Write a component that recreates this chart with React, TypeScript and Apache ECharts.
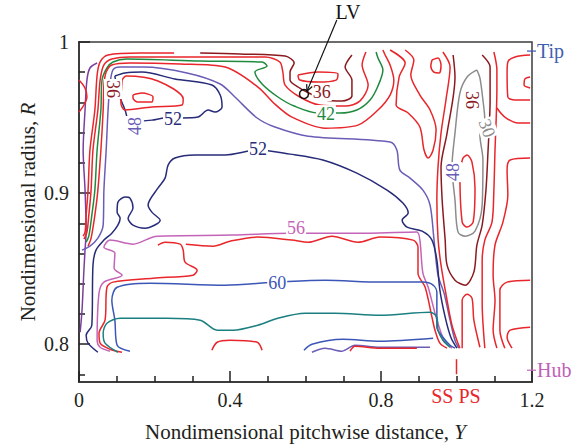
import React, { useEffect, useRef } from "react";
import * as echarts from "echarts";

const FONT = "'Liberation Serif', 'Times New Roman', serif";
const INK = "#231f20";

const C: Record<string, string> = {
  red: "#e8262b",
  maroon: "#8a1a1f",
  green: "#1f8a3e",
  lavender: "#6b5db6",
  navy: "#272b78",
  pink: "#c464b8",
  blue: "#3b56b6",
  teal: "#1b7f80",
  gray: "#8c8c8c",
  violet: "#7a3f9e",
};

// ---- axis ticks ----
const xMajorTicks = [0, 0.4, 0.8, 1.2];
const xMinorTicks = [0.1, 0.2, 0.3, 0.5, 0.6, 0.7, 0.9, 1.0, 1.1];
const yMajorTicks = [0.8, 0.9, 1.0];
const yMinorTicks = [0.78, 0.82, 0.84, 0.86, 0.88, 0.92, 0.94, 0.96, 0.98];

// ---- contour lines: [Y (pitchwise), R (radius)] ----
const violetLine = [[0.048,0.9861],[0.029,0.9828],[0.021,0.9748],[0.016,0.9550],[0.011,0.9285],[0.016,0.9020],[0.019,0.8755],[0.016,0.8623],[0.013,0.8490],[0.008,0.8225],[0.003,0.8079]];
const redArc = [[0,0.9748],[0.016,0.9695],[0.021,0.9636],[0.013,0.9583],[0,0.9536]];
const redA = [[0.252,0.9927],[0.162,0.9927],[0.077,0.9914],[0.056,0.9868],[0.048,0.9781],[0.042,0.9550],[0.029,0.9285],[0.024,0.9020],[0.019,0.8854],[0.016,0.8742],[0.011,0.8715]];
const redA2 = [[0.013,0.8695],[0.021,0.8742],[0.026,0.8854],[0.032,0.9020],[0.037,0.9285],[0.050,0.9550],[0.056,0.9748],[0.066,0.9848],[0.087,0.9887],[0.135,0.9901],[0.321,0.9901],[0.493,0.9901],[0.532,0.9868],[0.540,0.9801],[0.546,0.9715],[0.585,0.9636],[0.638,0.9583],[0.705,0.9576],[0.744,0.9609],[0.766,0.9715],[0.750,0.9848],[0.760,0.9934]];
const green42 = [[0.019,0.8675],[0.026,0.8715],[0.034,0.8854],[0.042,0.9020],[0.048,0.9285],[0.058,0.9550],[0.061,0.9748],[0.074,0.9828],[0.090,0.9868],[0.127,0.9887],[0.321,0.9874],[0.485,0.9868],[0.498,0.9841],[0.466,0.9801],[0.485,0.9722],[0.527,0.9636],[0.570,0.9576],[0.633,0.9530],[0.691,0.9530],[0.736,0.9550],[0.771,0.9616],[0.792,0.9709],[0.805,0.9815],[0.792,0.9894],[0.787,0.9934]];
const redB = [[0.024,0.8649],[0.032,0.8702],[0.042,0.8854],[0.050,0.9020],[0.058,0.9285],[0.064,0.9550],[0.066,0.9715],[0.072,0.9801],[0.087,0.9848],[0.135,0.9861],[0.268,0.9854],[0.387,0.9834],[0.474,0.9702],[0.519,0.9589],[0.564,0.9503],[0.652,0.9430],[0.739,0.9450],[0.792,0.9550],[0.824,0.9649],[0.834,0.9748],[0.824,0.9848],[0.811,0.9914],[0.805,0.9947]];
const lavender48 = [[0.008,0.8623],[0.029,0.8649],[0.050,0.8702],[0.064,0.8788],[0.066,0.9020],[0.072,0.9285],[0.077,0.9550],[0.082,0.9715],[0.090,0.9815],[0.109,0.9834],[0.170,0.9834],[0.286,0.9795],[0.374,0.9722],[0.413,0.9636],[0.472,0.9497],[0.519,0.9437],[0.607,0.9377],[0.824,0.9338],[0.842,0.9285],[0.850,0.9152],[0.877,0.9099],[0.911,0.9020],[0.930,0.8921],[0.940,0.8702],[0.951,0.8457],[0.967,0.8338],[0.983,0.8159],[0.996,0.8026],[1.006,0.7974]];
const navyLoop = [[0.095,0.9775],[0.122,0.9795],[0.167,0.9801],[0.254,0.9755],[0.352,0.9715],[0.374,0.9649],[0.379,0.9570],[0.360,0.9536],[0.342,0.9550],[0.315,0.9503],[0.273,0.9497],[0.228,0.9497],[0.193,0.9483],[0.130,0.9470],[0.127,0.9503],[0.122,0.9550],[0.103,0.9669],[0.095,0.9775]];
const redLoopOuter = [[0.114,0.9748],[0.125,0.9775],[0.209,0.9742],[0.276,0.9623],[0.273,0.9583],[0.193,0.9570],[0.122,0.9550],[0.111,0.9596],[0.114,0.9748]];
const redLoopInner = [[0.143,0.9649],[0.167,0.9662],[0.196,0.9636],[0.193,0.9603],[0.156,0.9603],[0.143,0.9629],[0.143,0.9649]];
const maroonTop = [[0.321,0.9927],[0.426,0.9921],[0.546,0.9907],[0.570,0.9861],[0.559,0.9801],[0.559,0.9748],[0.585,0.9695],[0.620,0.9649],[0.652,0.9616],[0.697,0.9609],[0.723,0.9642],[0.723,0.9748],[0.705,0.9834],[0.723,0.9914]];
const redLV = [[0.580,0.9781],[0.633,0.9801],[0.686,0.9788],[0.681,0.9748],[0.633,0.9735],[0.585,0.9748],[0.580,0.9781]];
const navyMain = [[0.050,0.7947],[0.024,0.8007],[0.019,0.8060],[0.034,0.8126],[0.037,0.8523],[0.045,0.8623],[0.066,0.8689],[0.087,0.8735],[0.103,0.8788],[0.109,0.8834],[0.101,0.8874],[0.103,0.8940],[0.122,0.8974],[0.135,0.8967],[0.143,0.8901],[0.130,0.8834],[0.143,0.8788],[0.175,0.8768],[0.215,0.8821],[0.193,0.8874],[0.183,0.8921],[0.209,0.9033],[0.228,0.9099],[0.236,0.9185],[0.254,0.9232],[0.307,0.9252],[0.387,0.9252],[0.474,0.9285],[0.559,0.9258],[0.646,0.9219],[0.736,0.9132],[0.816,0.9020],[0.858,0.8934],[0.872,0.8868],[0.856,0.8821],[0.869,0.8775],[0.909,0.8748],[0.935,0.8689],[0.948,0.8556],[0.956,0.8358],[0.970,0.8179],[0.985,0.8046],[1.001,0.7974]];
const pink56 = [[0.082,0.7954],[0.056,0.7980],[0.048,0.8026],[0.053,0.8338],[0.066,0.8411],[0.114,0.8457],[0.093,0.8503],[0.095,0.8603],[0.066,0.8642],[0.082,0.8689],[0.143,0.8662],[0.207,0.8715],[0.408,0.8722],[0.559,0.8735],[0.771,0.8735],[0.895,0.8742],[0.903,0.8689],[0.911,0.8470],[0.925,0.8377],[0.946,0.8179],[0.967,0.8026],[0.988,0.7974]];
const redMidA = [[0.114,0.7947],[0.082,0.7967],[0.056,0.8007],[0.053,0.8073],[0.069,0.8159],[0.074,0.8377],[0.090,0.8411],[0.196,0.8437],[0.302,0.8457],[0.313,0.8490],[0.281,0.8543],[0.276,0.8623],[0.268,0.8662],[0.228,0.8675],[0.209,0.8656]];
const redMidB = [[0.283,0.8662],[0.355,0.8649],[0.400,0.8682],[0.474,0.8709],[0.564,0.8689],[0.607,0.8675],[0.670,0.8715],[0.739,0.8675],[0.797,0.8709],[0.885,0.8689],[0.898,0.8642],[0.898,0.8470],[0.917,0.8377],[0.935,0.8179],[0.943,0.8093],[0.956,0.8007],[0.975,0.7974]];
const blue60 = [[0.135,0.7954],[0.101,0.7993],[0.095,0.8159],[0.087,0.8291],[0.101,0.8377],[0.188,0.8404],[0.387,0.8391],[0.527,0.8411],[0.652,0.8424],[0.797,0.8411],[0.911,0.8411],[0.938,0.8391],[0.948,0.8344],[0.948,0.8113],[0.964,0.8046],[0.983,0.7993],[0.996,0.7974]];
const teal64 = [[0.103,0.7947],[0.069,0.8007],[0.064,0.8073],[0.074,0.8139],[0.109,0.8172],[0.233,0.8172],[0.321,0.8159],[0.366,0.8093],[0.408,0.8093],[0.474,0.8126],[0.527,0.8172],[0.599,0.8205],[0.678,0.8205],[0.797,0.8192],[0.930,0.8212],[0.948,0.8179],[0.951,0.8093],[0.964,0.8026],[0.983,0.7980]];
const redBotArc = [[0.352,0.7960],[0.366,0.8013],[0.400,0.8026],[0.472,0.8013],[0.485,0.7960]];
const blueBot = [[0.596,0.7960],[0.617,0.8000],[0.699,0.8033],[0.797,0.8020],[0.938,0.8040]];
const purpleBot = [[0.617,0.7947],[0.652,0.7974],[0.697,0.7954],[0.731,0.7993],[0.797,0.7980],[0.930,0.7980]];
const redBot = [[0.718,0.7954],[0.731,0.7987],[0.797,0.7974],[0.895,0.7974]];
const gray30 = [[1.054,0.9815],[1.028,0.9768],[1.009,0.9662],[0.996,0.9397],[0.988,0.9172],[0.996,0.8954],[1.004,0.8742],[1.023,0.8715],[1.049,0.8748],[1.068,0.8921],[1.070,0.9219],[1.062,0.9384],[1.075,0.9483],[1.070,0.9616],[1.062,0.9762],[1.054,0.9815]];
const redInner = [[1.017,0.9232],[1.009,0.9139],[1.015,0.8808],[1.028,0.8775],[1.044,0.8808],[1.049,0.9033],[1.041,0.9205],[1.028,0.9252],[1.017,0.9232]];
const maroonRight = [[0.991,0.9914],[0.996,0.9768],[0.975,0.9397],[0.959,0.9172],[0.962,0.8954],[0.970,0.8689],[0.975,0.8523],[0.996,0.8424],[1.023,0.8391],[1.046,0.8477],[1.054,0.8656],[1.068,0.8788],[1.078,0.9020],[1.083,0.9252],[1.089,0.9616],[1.089,0.9834],[1.068,0.9914]];
const redML = [[0.964,0.9934],[0.983,0.9834],[0.972,0.9616],[0.959,0.9397],[0.951,0.9172],[0.948,0.8954],[0.951,0.8702],[0.959,0.8523],[0.975,0.8291],[0.988,0.8126],[1.001,0.8026],[1.009,0.7974]];
const redNarrowU = [[1.015,0.7974],[1.015,0.8291],[1.028,0.8331],[1.041,0.8305],[1.046,0.8159],[1.062,0.7980]];
const redR2 = [[1.075,0.7974],[1.068,0.8272],[1.068,0.8556],[1.075,0.8689],[1.094,0.8808],[1.099,0.9020],[1.102,0.9285],[1.105,0.9483],[1.107,0.9682],[1.107,0.9815],[1.099,0.9934]];
const redR7 = [[1.107,0.9563],[1.128,0.9503],[1.163,0.9464],[1.195,0.9464]];
const redR3 = [[1.195,0.9232],[1.142,0.9219],[1.134,0.9152],[1.136,0.8987],[1.123,0.8808],[1.102,0.8656],[1.097,0.8457],[1.102,0.8291],[1.097,0.8093],[1.107,0.7974]];
const redR3b = [[1.195,0.8424],[1.134,0.8411],[1.115,0.8358],[1.115,0.8093],[1.128,0.7974]];
const redR4 = [[1.195,0.8113],[1.142,0.8093],[1.134,0.8046],[1.147,0.7974]];
const redR5 = [[1.195,0.9616],[1.155,0.9616],[1.136,0.9636],[1.134,0.9795],[1.136,0.9868],[1.155,0.9901],[1.195,0.9914]];
const redR6 = [[1.195,0.9768],[1.181,0.9755],[1.179,0.9715],[1.195,0.9695]];
const redMV = [[0.824,0.9947],[0.864,0.9861],[0.848,0.9768],[0.840,0.9583],[0.872,0.9530],[0.903,0.9437],[0.914,0.9285],[0.925,0.9232],[0.938,0.9285],[0.946,0.9417],[0.930,0.9550],[0.903,0.9649],[0.879,0.9781],[0.887,0.9881],[0.864,0.9947]];
const redSmallLoop = [[0.935,0.9881],[0.951,0.9894],[0.959,0.9848],[0.954,0.9795],[0.940,0.9801],[0.932,0.9841],[0.935,0.9881]];

const contours: [number[][], string][] = [
  [violetLine, "violet"], [redArc, "red"], [redA, "red"], [redA2, "red"], [green42, "green"],
  [redB, "red"], [lavender48, "lavender"], [navyLoop, "navy"], [redLoopOuter, "red"], [redLoopInner, "red"],
  [maroonTop, "maroon"], [redLV, "red"], [navyMain, "navy"], [pink56, "pink"], [redMidA, "red"],
  [redMidB, "red"], [blue60, "blue"], [teal64, "teal"], [redBotArc, "red"], [blueBot, "blue"],
  [purpleBot, "lavender"], [redBot, "red"], [gray30, "gray"], [redInner, "red"], [maroonRight, "maroon"],
  [redML, "red"], [redNarrowU, "red"], [redR2, "red"], [redR7, "red"], [redR3, "red"],
  [redR3b, "red"], [redR4, "red"], [redR5, "red"], [redR6, "red"], [redMV, "red"], [redSmallLoop, "red"],
];

// ---- contour level labels ----
const contourLabels = [
  { at: [0.643, 0.9669], text: "36", color: "maroon", rotate: 0 },
  { at: [0.654, 0.9523], text: "42", color: "green", rotate: 0 },
  { at: [0.249, 0.9490], text: "52", color: "navy", rotate: 0 },
  { at: [0.474, 0.9291], text: "52", color: "navy", rotate: 0 },
  { at: [0.148, 0.9444], text: "48", color: "lavender", rotate: 90 },
  { at: [0.090, 0.9689], text: "36", color: "maroon", rotate: -90 },
  { at: [0.575, 0.8768], text: "56", color: "pink", rotate: 0 },
  { at: [0.525, 0.8404], text: "60", color: "blue", rotate: 0 },
  { at: [1.041, 0.9616], text: "36", color: "maroon", rotate: -90 },
  { at: [1.081, 0.9430], text: "30", color: "gray", rotate: -70 },
  { at: [0.991, 0.9139], text: "48", color: "lavender", rotate: 90 },
];

// ---- annotations (data coordinates) ----
const lvCircle = [0.596, 0.9656];
const lvLeader = [[0.683, 1.0146], [0.604, 0.9675]];
const lvText = [0.7126, 1.0199];
const tipR = 0.994;
const hubR = 0.7828;
const bladeY = 1.0;
const bladeMark = [0.7901, 0.7801];
const ssTextR = 0.7656;

const axisText = { fontFamily: FONT, fontSize: 20, color: INK };
const nameRich = { i: { fontFamily: FONT, fontSize: 21, fontStyle: "italic", fill: INK } };

export default function App() {
  const ref = useRef<HTMLDivElement>(null);
  useEffect(() => {
    const chart = echarts.init(ref.current!, undefined, { renderer: "svg" });
    const tickStyle = { color: INK, width: 1.5 };
    const option: any = {
      animation: false,
      backgroundColor: "#fff",
      grid: { left: 79, top: 42, width: 453, height: 340, show: true, borderColor: "#3c3c3c", borderWidth: 1.5, backgroundColor: "transparent" },
      xAxis: [
        {
          type: "value", min: 0, max: 1.2, position: "bottom",
          axisLine: { show: true, onZero: false, lineStyle: { color: "#3c3c3c", width: 2 } },
          axisTick: { show: true, inside: true, length: 11, customValues: xMajorTicks, lineStyle: tickStyle },
          axisLabel: { show: true, customValues: xMajorTicks, margin: 8, ...axisText, formatter: (v: number) => String(v) },
          splitLine: { show: false },
        },
        {
          type: "value", min: 0, max: 1.2, position: "bottom",
          axisLine: { show: false },
          axisTick: { show: true, inside: true, length: 6, customValues: xMinorTicks, lineStyle: tickStyle },
          axisLabel: { show: false }, splitLine: { show: false },
        },
      ],
      yAxis: [
        {
          type: "value", min: 0.775, max: 1.0, position: "left",
          axisLine: { show: true, onZero: false, lineStyle: { color: "#3c3c3c", width: 2 } },
          axisTick: { show: true, inside: true, length: 11, customValues: yMajorTicks, lineStyle: tickStyle },
          axisLabel: { show: true, customValues: yMajorTicks, margin: 10, ...axisText, formatter: (v: number) => String(Math.round(v * 10) / 10) },
          splitLine: { show: false },
        },
        {
          type: "value", min: 0.775, max: 1.0, position: "left",
          axisLine: { show: false },
          axisTick: { show: true, inside: true, length: 6, customValues: yMinorTicks, lineStyle: tickStyle },
          axisLabel: { show: false }, splitLine: { show: false },
        },
      ],
      series: [
        ...contours.map(([data, col], i) => ({
          type: "line", name: "c" + i, data, xAxisIndex: 0, yAxisIndex: 0,
          symbol: "none", smooth: 0.3, silent: true,
          lineStyle: { color: C[col], width: 1.5 }, z: 2,
        })),
        {
          type: "scatter", xAxisIndex: 0, yAxisIndex: 0, symbolSize: 1, silent: true, z: 5,
          itemStyle: { color: "rgba(0,0,0,0)" },
          data: contourLabels.map((l) => ({
            value: l.at,
            label: { show: true, formatter: l.text, color: C[l.color], rotate: l.rotate },
          })),
          label: { show: true, position: "inside", fontFamily: FONT, fontSize: 18, backgroundColor: "#fff", padding: [0, 1], opacity: 1 },
        },
      ],
    };
    chart.setOption(option);

    const px = (p: number[]) => chart.convertToPixel({ seriesIndex: 0 }, p) as number[];
    const c = px(lvCircle);
    const a = px(lvLeader[0]);
    const b = px(lvLeader[1]);
    const t = px(lvText);
    const dx = b[0] - a[0], dy = b[1] - a[1];
    const len = Math.hypot(dx, dy);
    const ux = dx / len, uy = dy / len;
    const wing = (ang: number) => {
      const cs = Math.cos(ang), sn = Math.sin(ang);
      const rx = -(ux * cs - uy * sn), ry = -(ux * sn + uy * cs);
      return [b[0] + rx * 7, b[1] + ry * 7];
    };
    const tip = px([1.2, tipR]);
    const hub = px([1.2, hubR]);
    const ss0 = px([bladeY, bladeMark[0]]);
    const ss1 = px([bladeY, bladeMark[1]]);
    const sst = px([bladeY, ssTextR]);
    const origin = px([0, 0.775]);
    const corner = px([1.2, 1.0]);
    const txt = (x: number, y: number, text: string, fill: string, align = "left", size = 20) => ({
      type: "text", x, y, silent: true,
      style: { text, fill, font: `${size}px ${FONT}`, align, verticalAlign: "middle" },
    });
    chart.setOption({
      graphic: [
        { type: "circle", shape: { cx: c[0], cy: c[1], r: 4.5 }, style: { fill: "none", stroke: "#111", lineWidth: 1.5 }, silent: true, z: 10 },
        { type: "line", shape: { x1: a[0], y1: a[1], x2: b[0], y2: b[1] }, style: { stroke: "#111", lineWidth: 1.2 }, silent: true, z: 10 },
        { type: "polyline", shape: { points: [wing(0.45), b, wing(-0.45)] }, style: { stroke: "#111", lineWidth: 1.2, fill: "none" }, silent: true, z: 10 },
        txt(t[0], t[1], "LV", "#111", "center", 20),
        { type: "line", shape: { x1: tip[0] - 5, y1: tip[1], x2: tip[0] + 4, y2: tip[1] }, style: { stroke: C.blue, lineWidth: 1.2 }, silent: true },
        txt(tip[0] + 5, tip[1], "Tip", "#3f5fb0"),
        { type: "line", shape: { x1: hub[0] - 5, y1: hub[1], x2: hub[0] + 4, y2: hub[1] }, style: { stroke: C.pink, lineWidth: 1.2 }, silent: true },
        txt(hub[0] + 5, hub[1], "Hub", "#c060b8"),
        { type: "line", shape: { x1: ss0[0], y1: ss0[1], x2: ss1[0], y2: ss1[1] }, style: { stroke: C.red, lineWidth: 1.5 }, silent: true },
        txt(sst[0] - 3, sst[1], "SS", C.red, "right"),
        txt(sst[0] + 2, sst[1], "PS", C.red, "left"),
        {
          type: "text", silent: true,
          x: (origin[0] + corner[0]) / 2, y: origin[1] + 50,
          style: { text: "Nondimensional pitchwise distance, {i|Y}", rich: nameRich, font: `21px ${FONT}`, fill: INK, align: "center", verticalAlign: "middle" },
        },
        {
          type: "text", silent: true,
          x: origin[0] - 51, y: (origin[1] + corner[1]) / 2, rotation: Math.PI / 2,
          style: { text: "Nondimensional radius, {i|R}", rich: nameRich, font: `21px ${FONT}`, fill: INK, align: "center", verticalAlign: "middle" },
        },
      ],
    });
    return () => chart.dispose();
  }, []);
  return <div ref={ref} style={{ position: "fixed", left: 0, top: 0, width: 580, height: 446, background: "#fff" }} />;
}
